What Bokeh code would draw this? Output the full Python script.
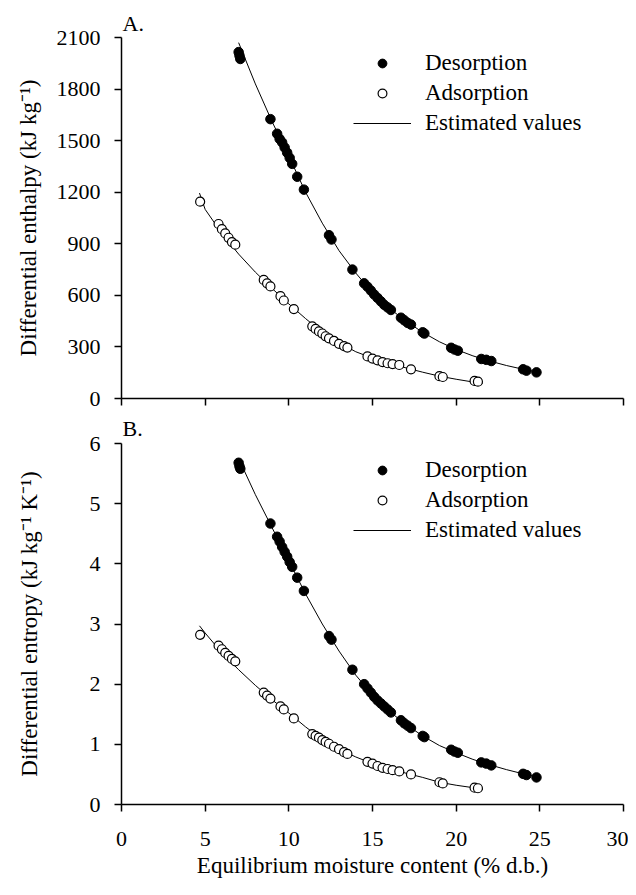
from bokeh.plotting import figure
from bokeh.models import Range1d, FixedTicker, Legend, LegendItem
from bokeh.layouts import column
from bokeh.embed import file_html
from bokeh.resources import INLINE

FONT = "Liberation Serif"

# ---------------- data ----------------
x_ticks = [0, 5, 10, 15, 20, 25, 30]
enthalpy_ticks = [0, 300, 600, 900, 1200, 1500, 1800, 2100]
entropy_ticks = [0, 1, 2, 3, 4, 5, 6]

des_x = [7.0, 7.05, 7.1, 8.9, 9.3, 9.45, 9.6, 9.75, 9.9, 10.05, 10.2, 10.5, 10.9,
         12.4, 12.55, 13.8, 14.5, 14.7, 14.9, 15.1, 15.3, 15.5, 15.7, 15.9, 16.1,
         16.7, 16.9, 17.1, 17.3, 18.0, 18.1, 19.7, 19.9, 20.1, 21.5, 21.8, 22.1,
         24.0, 24.2, 24.8]
des_enthalpy = [2015, 1995, 1975, 1625, 1540, 1510, 1490, 1460, 1430, 1400, 1365, 1290, 1215,
                950, 925, 750, 670, 650, 628, 605, 585, 565, 545, 530, 515,
                470, 455, 440, 430, 385, 378, 295, 285, 278, 230, 225, 218,
                170, 162, 152]
des_entropy = [5.68, 5.62, 5.58, 4.67, 4.45, 4.37, 4.28, 4.20, 4.12, 4.03, 3.95, 3.77, 3.55,
               2.80, 2.74, 2.24, 2.00, 1.93, 1.86, 1.79, 1.73, 1.68, 1.63, 1.58, 1.53,
               1.40, 1.35, 1.31, 1.27, 1.14, 1.12, 0.91, 0.88, 0.86, 0.70, 0.68, 0.65,
               0.51, 0.49, 0.45]

ads_x = [4.7, 5.8, 6.0, 6.2, 6.4, 6.6, 6.8, 8.5, 8.7, 8.9, 9.5, 9.7, 10.3,
         11.4, 11.6, 11.8, 12.0, 12.2, 12.4, 12.7, 13.0, 13.3, 13.5,
         14.7, 15.0, 15.3, 15.6, 15.9, 16.2, 16.6, 17.3, 19.0, 19.2, 21.1, 21.3]
ads_enthalpy = [1145, 1015, 985, 960, 935, 910, 895, 690, 670, 652, 595, 570, 520,
                420, 405, 390, 378, 362, 350, 335, 318, 305, 296,
                245, 232, 222, 212, 205, 200, 195, 170, 130, 125, 102, 98]
ads_entropy = [2.82, 2.64, 2.58, 2.52, 2.47, 2.42, 2.38, 1.86, 1.81, 1.76, 1.63, 1.58, 1.43,
               1.17, 1.14, 1.11, 1.07, 1.04, 1.01, 0.96, 0.92, 0.87, 0.84,
               0.71, 0.68, 0.64, 0.61, 0.59, 0.57, 0.55, 0.50, 0.37, 0.35, 0.28, 0.27]

# estimated (fitted) curves
fit_des_x = [7.0, 8.0, 9.0, 10.0, 11.0, 12.0, 13.0, 14.0, 15.0, 16.0, 17.0, 18.0,
             19.0, 20.0, 21.0, 22.0, 23.0, 24.0, 24.8]
fit_des_enthalpy = [2070, 1830, 1610, 1410, 1200, 1020, 860, 730, 615, 525, 450, 385,
                    330, 285, 248, 218, 192, 170, 155]
fit_des_entropy = [5.75, 5.15, 4.60, 4.05, 3.50, 3.00, 2.55, 2.15, 1.82, 1.55, 1.33, 1.14,
                   0.98, 0.86, 0.75, 0.66, 0.58, 0.51, 0.46]

fit_ads_x = [4.66, 5.0, 6.0, 7.0, 8.0, 9.0, 10.0, 11.0, 12.0, 13.0, 14.0, 15.0, 16.0,
             17.0, 18.0, 19.0, 20.0, 21.0, 21.6]
fit_ads_enthalpy = [1195, 1100, 960, 840, 735, 640, 550, 465, 385, 325, 272, 235, 205,
                    178, 153, 130, 112, 96, 90]
fit_ads_entropy = [2.97, 2.85, 2.52, 2.24, 1.98, 1.74, 1.52, 1.29, 1.08, 0.92, 0.79, 0.68,
                   0.60, 0.52, 0.45, 0.37, 0.32, 0.28, 0.25]

labels = ["Desorption", "Adsorption", "Estimated values"]
panel_tags = ["A.", "B."]


def make_panel(ylab, yticks, ymax, des_y, ads_y, fit_des_y, fit_ads_y,
               tag, bottom, legend_vy, ylab_standoff, tag_standoff):
    p = figure(output_backend="svg", toolbar_location=None,
               frame_width=502, frame_height=361,
               x_range=Range1d(0, 30), y_range=Range1d(0, ymax),
               min_border_left=121, min_border_right=5,
               min_border_top=30 if bottom else 37,
               min_border_bottom=84 if bottom else 13,
               background_fill_color="white", border_fill_color="white")
    p.outline_line_color = None
    p.grid.visible = False

    # panel tag as a left-aligned title
    p.title.text = tag
    p.title.align = "left"
    p.title.offset = 1
    p.title.standoff = tag_standoff
    p.title.text_font = FONT
    p.title.text_font_size = "22px"
    p.title.text_font_style = "normal"
    p.title.text_color = "black"

    l1 = p.line(fit_des_x, fit_des_y, line_color="black", line_width=1)
    p.line(fit_ads_x, fit_ads_y, line_color="black", line_width=1)
    r_des = p.scatter(des_x, des_y, marker="circle", size=9.5,
                      fill_color="black", line_color="black")
    r_ads = p.scatter(ads_x, ads_y, marker="circle", size=9,
                      fill_color="white", line_color="black", line_width=1.2)

    for ax in (p.xaxis[0], p.yaxis[0]):
        ax.axis_line_color = "black"
        ax.axis_line_width = 1.5
        ax.major_tick_line_color = "black"
        ax.major_tick_line_width = 1.5
        ax.major_tick_in = 0
        ax.major_tick_out = 7
        ax.minor_tick_line_color = None
        ax.major_label_text_font = FONT
        ax.major_label_text_font_size = "22px"
        ax.major_label_text_color = "black"
        ax.axis_label_text_font = FONT
        ax.axis_label_text_font_size = "23px"
        ax.axis_label_text_font_style = "normal"
        ax.axis_label_text_color = "black"

    p.xaxis.ticker = FixedTicker(ticks=x_ticks)
    p.yaxis.ticker = FixedTicker(ticks=yticks)
    p.yaxis.major_label_standoff = 14
    p.yaxis.axis_label = ylab
    p.yaxis.axis_label_standoff = ylab_standoff
    if bottom:
        p.xaxis.axis_label = "Equilibrium moisture content (% d.b.)"
        p.xaxis.major_label_standoff = 20
        p.xaxis.axis_label_standoff = 4
    else:
        # ticks only, no tick labels on the upper panel
        p.xaxis.major_label_text_font_size = "1px"
        p.xaxis.major_label_text_color = None
        p.xaxis.major_label_standoff = 0

    legend = Legend(items=[LegendItem(label=labels[0], renderers=[r_des]),
                           LegendItem(label=labels[1], renderers=[r_ads]),
                           LegendItem(label=labels[2], renderers=[l1])],
                    location=(232, legend_vy),
                    border_line_color=None, background_fill_alpha=0,
                    padding=0, margin=0, spacing=3,
                    glyph_width=58, glyph_height=22, label_height=27,
                    label_standoff=14,
                    label_text_font=FONT, label_text_font_size="23px",
                    label_text_color="black")
    p.add_layout(legend)
    return p


p1 = make_panel("Differential enthalpy (kJ kg\u207b\u00b9)", enthalpy_ticks, 2100,
                des_enthalpy, ads_enthalpy, fit_des_enthalpy, fit_ads_enthalpy,
                panel_tags[0], False, 262, 13, 4)
p2 = make_panel("Differential entropy (kJ kg\u207b\u00b9 K\u207b\u00b9)", entropy_ticks, 6,
                des_entropy, ads_entropy, fit_des_entropy, fit_ads_entropy,
                panel_tags[1], True, 261, 45, 5)

layout = column(p1, p2, spacing=0)
open("out.html", "w").write(file_html(layout, INLINE))
